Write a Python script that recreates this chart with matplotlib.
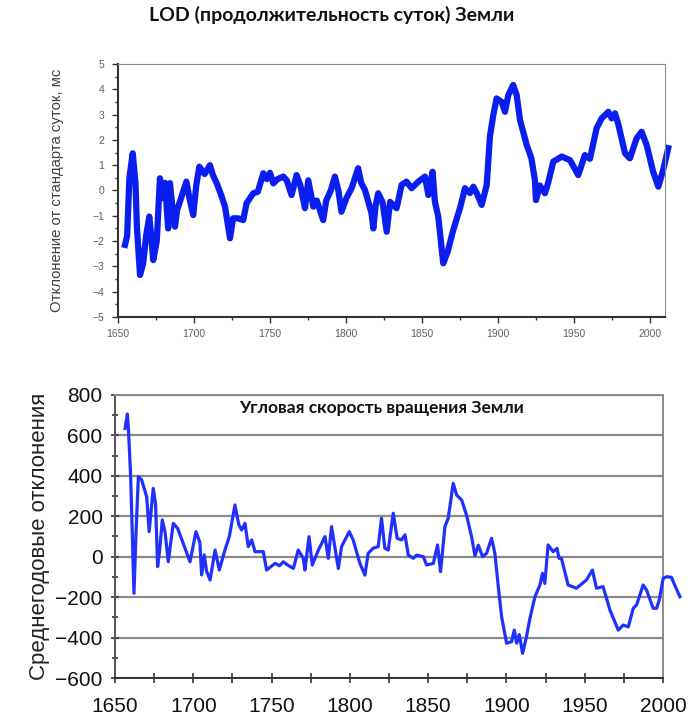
import matplotlib
matplotlib.use("Agg")
import matplotlib.pyplot as plt
from matplotlib.ticker import MultipleLocator

# ---- data: LOD (length of day) deviation, ms ----
lod_years = [1654.6, 1656, 1657.5, 1659.7, 1661.5, 1662.5, 1664.5, 1666.5, 1668.5, 1670.6,
             1672, 1673.2, 1675.5, 1677.6, 1679.5, 1681, 1683, 1684.2, 1686, 1687.5,
             1688.8, 1692, 1695, 1697, 1699.5, 1701.5, 1703.5, 1707, 1710.5, 1712.5,
             1715, 1718, 1720.4, 1723.7, 1725.7, 1729, 1732.4, 1734.6, 1739, 1742,
             1745.6, 1748, 1750, 1752.2, 1755, 1758.8, 1761, 1764.2, 1767.5, 1770,
             1773, 1775.2, 1778.5, 1780.8, 1785, 1787, 1790, 1792.7, 1795, 1797,
             1800.3, 1803.7, 1808, 1810, 1812.5, 1816.8, 1818, 1819.5, 1821.2, 1824,
             1826.8, 1829, 1833.3, 1836.6, 1839.8, 1843.2, 1847.6, 1852, 1854.2, 1857,
             1858.5, 1860.7, 1864, 1867, 1870.6, 1875, 1878.3, 1881.6, 1883.8, 1886,
             1889.3, 1892.6, 1894.7, 1897, 1899.1, 1902.4, 1904.6, 1906.8, 1910, 1912.3,
             1914.5, 1918.9, 1922, 1924.3, 1925, 1927.5, 1930.9, 1933, 1936.4, 1941.9,
             1947.4, 1952.8, 1957.2, 1960.5, 1964.9, 1968.2, 1972.6, 1974.8, 1977, 1979,
             1983.6, 1986.8, 1991.2, 1994.5, 1997.8, 2002.1, 2005.5, 2008.7, 2012]
lod_values = [-2.15, -1.8, 0.5, 1.47, 0.3, -1.5, -3.34, -2.9, -1.8, -1.03,
              -1.9, -2.75, -2.0, 0.48, -0.3, 0.3, -1.5, 0.29, -0.8, -1.43,
              -0.8, -0.2, 0.35, -0.3, -0.97, 0.2, 0.94, 0.65, 1.0, 0.6,
              0.28, -0.2, -0.64, -1.89, -1.1, -1.1, -1.17, -0.5, -0.11, -0.05,
              0.68, 0.45, 0.7, 0.28, 0.45, 0.55, 0.4, -0.18, 0.61, 0.2,
              -0.7, 0.4, -0.64, -0.4, -1.17, -0.4, 0.0, 0.55, 0.0, -0.84,
              -0.3, 0.09, 0.88, 0.3, 0.02, -0.9, -1.5, -0.6, -0.11, -0.45,
              -1.63, -0.45, -0.7, 0.22, 0.35, 0.09, 0.35, 0.55, -0.18, 0.74,
              -0.44, -1.03, -2.88, -2.4, -1.56, -0.7, 0.09, -0.1, 0.15, -0.1,
              -0.57, 0.22, 2.13, 3.0, 3.64, 3.5, 3.11, 3.77, 4.17, 3.77,
              2.79, 1.8, 1.27, 0.41, -0.38, 0.2, -0.11, 0.3, 1.14, 1.34,
              1.2, 0.61, 1.4, 1.25, 2.46, 2.85, 3.11, 2.85, 3.05, 2.66,
              1.47, 1.27, 2.06, 2.32, 1.8, 0.74, 0.15, 0.81, 1.67]

# ---- data: angular velocity, mean annual deviations ----
w_years = [1656.4, 1657.9, 1658.5, 1660, 1662.1, 1663.4, 1664.9, 1667, 1670.2, 1671.8,
           1674.4, 1675.9, 1677.2, 1678.6, 1680.2, 1682, 1684, 1687.2, 1690, 1697.9,
           1701.7, 1704.2, 1705.3, 1707, 1708.4, 1710.7, 1713.9, 1716.6, 1720.2, 1723,
           1726.6, 1729, 1730.9, 1733, 1735.1, 1737.3, 1739.4, 1744.7, 1746.8, 1752.2,
           1755, 1757.5, 1760, 1763.9, 1767, 1770.2, 1771.3, 1773.9, 1776, 1779.9,
           1784.1, 1786.2, 1788.3, 1792.6, 1794.7, 1799.6, 1802.1, 1806.4, 1809.6, 1811.7,
           1814.9, 1818.1, 1820.2, 1822.3, 1824.5, 1827.7, 1830.2, 1833, 1835.2, 1837.3,
           1840.5, 1842.6, 1846.9, 1849, 1853.3, 1856, 1857.9, 1860.7, 1862.8, 1866,
           1868.2, 1871.4, 1874.5, 1877.7, 1879.9, 1882, 1884.8, 1887.3, 1890.5, 1892.6,
           1894.8, 1896.9, 1900.1, 1903.3, 1905, 1906.5, 1908.2, 1910.3, 1912.8, 1915,
           1918.2, 1921.4, 1923, 1924.5, 1926.6, 1929.8, 1932.3, 1933.6, 1935.1, 1939.4,
           1944.7, 1951.1, 1954.9, 1957.5, 1961.7, 1966.1, 1971.4, 1974.6, 1977.8, 1981,
           1983.1, 1987.3, 1989.5, 1993.7, 1995.9, 1997.6, 2000.1, 2002.3, 2005.4, 2007,
           2010.8]
w_values = [635, 706, 640, 396, -181, 116, 396, 380, 297, 124,
            338, 260, -49, 40, 182, 120, -25, 165, 140, -25,
            124, 70, -90, 9, -70, -115, 33, -66, 33, 100,
            256, 160, 132, 165, 50, 83, 25, 25, -66, -33,
            -45, -25, -40, -58, 33, -8, -66, 99, -41, 33,
            99, -8, 149, -58, 50, 124, 83, -33, -91, 17,
            42, 50, 190, 42, 33, 215, 91, 83, 108, 8,
            -8, 8, 0, -41, -33, 58, -74, 149, 190, 363,
            305, 280, 206, 99, 5, 57, 0, 17, 91, 17,
            -148, -297, -428, -420, -363, -428, -385, -478, -395, -305,
            -198, -140, -82, -132, 58, 25, 41, -8, -8, -140,
            -156, -115, -66, -156, -148, -264, -363, -338, -347, -255,
            -239, -140, -165, -255, -255, -214, -107, -99, -102, -132,
            -198]

lod_title = "LOD (продолжительность суток) Земли"
lod_ylabel = "Отклонение от стандарта суток, мс"
w_title = "Угловая скорость вращения Земли"
w_ylabel = "Среднегодовые отклонения"

plt.rcParams['font.family'] = ['Liberation Sans', 'DejaVu Sans']

fig = plt.figure(figsize=(6.9, 7.18), dpi=100)

# ---------------- top chart ----------------
ax1 = fig.add_axes([0.171, 0.5585, 0.793, 0.3524])
ax1.plot(lod_years, lod_values, color='#0a1ef0', lw=4.5, solid_joinstyle='round', clip_on=False)
ax1.set_xlim(1650, 2010)
ax1.set_ylim(-5, 5)
ax1.xaxis.set_major_locator(MultipleLocator(50))
ax1.xaxis.set_minor_locator(MultipleLocator(25))
ax1.yaxis.set_major_locator(MultipleLocator(1))
ax1.yaxis.set_minor_locator(MultipleLocator(0.5))
ax1.tick_params(axis='both', which='major', direction='out', length=4, width=1,
                color='#333333', labelsize=7.5, labelcolor='#606060', pad=6)
ax1.tick_params(axis='both', which='minor', direction='out', length=2.5, width=1, color='#333333')
ax1.tick_params(axis='x', which='major', pad=5)
ax1.tick_params(top=False, right=False, which='both')
for s in ['top', 'right']:
    ax1.spines[s].set_color('#909090')
for s in ['left', 'bottom']:
    ax1.spines[s].set_color('#333333')
    ax1.spines[s].set_linewidth(1.5)
ax1.set_ylabel(lod_ylabel, fontsize=10.7, color='#404040', labelpad=20)
fig.text(0.48, 0.979, lod_title, ha='center', va='center',
         family=['Lato', 'DejaVu Sans'], fontweight='bold', fontsize=14, color='#111111')

# ---------------- bottom chart ----------------
ax2 = fig.add_axes([0.1667, 0.0557, 0.7942, 0.3942])
ax2.plot(w_years, w_values, color='#1f30ff', lw=2.3, clip_on=False, zorder=3)
ax2.set_xlim(1650, 2000)
ax2.set_ylim(-600, 800)
ax2.xaxis.set_major_locator(MultipleLocator(50))
ax2.xaxis.set_minor_locator(MultipleLocator(25))
ax2.yaxis.set_major_locator(MultipleLocator(200))
ax2.yaxis.set_minor_locator(MultipleLocator(100))
ax2.grid(True, axis='y', which='major', color='#8a8a8a', lw=1.6, zorder=1)
ax2.set_axisbelow(True)
ax2.tick_params(axis='both', which='both', direction='inout', color='#333333', width=1.2)
ax2.tick_params(axis='y', which='major', length=6, labelsize=15, pad=6, labelcolor='#111111')
ax2.tick_params(axis='y', which='minor', length=5)
ax2.tick_params(axis='x', which='both', length=7, labelsize=15, pad=10, labelcolor='#111111')
ax2.tick_params(top=False, right=False, which='both')
for s in ['top', 'right', 'left']:
    ax2.spines[s].set_color('#8a8a8a')
    ax2.spines[s].set_linewidth(1.4)
ax2.spines['left'].set_color('#555555')
ax2.spines['bottom'].set_color('#333333')
ax2.spines['bottom'].set_linewidth(1.4)
ax2.set_ylabel(w_ylabel, fontsize=16, color='#222222', labelpad=4)
ax2.text(0.487, 0.954, w_title, transform=ax2.transAxes, ha='center', va='center',
         family=['Lato', 'DejaVu Sans'], fontweight='bold', fontsize=12.5, color='#111111')

fig.savefig("out.png", dpi=100)
